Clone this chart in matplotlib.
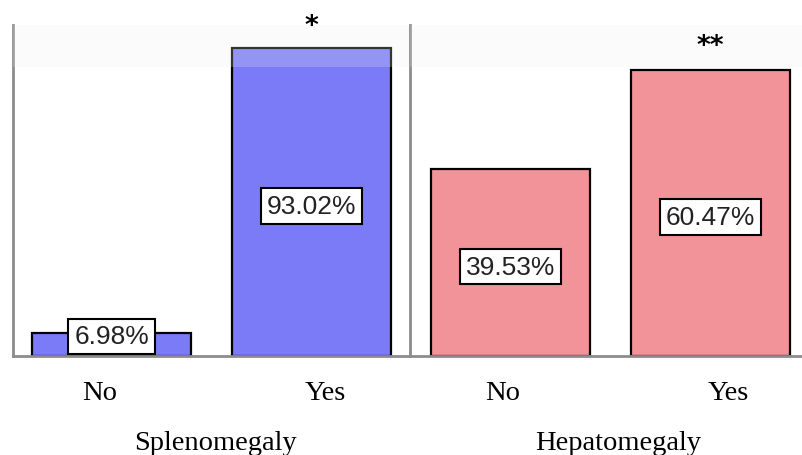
import matplotlib.pyplot as plt
from matplotlib.patches import Rectangle

categories = ['No', 'Yes']
spleen_pct = [6.98, 93.02]
hepato_pct = [39.53, 60.47]
panel_titles = ['Splenomegaly', 'Hepatomegaly']
stars = ['*', '**']

blue = '#7b7bf7'
pink = '#f19398'
spine_col = '#8c8c8c'

fig = plt.figure(figsize=(8.02, 4.56), dpi=100)
ax1 = fig.add_axes([13 / 802, 99 / 456, 397 / 802, 331 / 456])
ax2 = fig.add_axes([410 / 802, 99 / 456, 392 / 802, 331 / 456])

panels = [
    (ax1, spleen_pct, blue, 100, (-0.4925, 1.4925), [-0.06, 0.07], 0.51, 0.998),
    (ax2, hepato_pct, pink, 70, (-0.5025, 1.4575), [-0.04, 0.09], 0.53, 0.936),
]

x = range(len(categories))
for i, (ax, vals, col, ymax, xl, lab_off, title_x, star_y) in enumerate(panels):
    ax.bar(x, vals, width=0.795, color=col, edgecolor='black', linewidth=1.6, zorder=2)
    ax.set_ylim(0, ymax)
    ax.set_xlim(*xl)
    ax.set_xticks([])
    ax.set_yticks([])
    for s in ['top', 'right']:
        ax.spines[s].set_visible(False)
    for s in ['left', 'bottom']:
        ax.spines[s].set_color(spine_col)
        ax.spines[s].set_linewidth(2)

    # faint band at the top of the plotting area
    ax.add_patch(Rectangle((0, 0.873), 1, 0.127, transform=ax.transAxes,
                           facecolor='#eeeeee', alpha=0.22, edgecolor='none', zorder=3))

    for xi, v in zip(x, vals):
        y = v / 2 - ymax * 0.012 if v > 15 else v * 0.85
        ax.text(xi, y, f'{v:.2f}%', ha='center', va='center', fontsize=19,
                family='Liberation Sans', color='#222222', zorder=5,
                bbox=dict(boxstyle='square,pad=0.22', facecolor='white',
                          edgecolor='black', linewidth=1.5))

    for xi, lab, off in zip(x, categories, lab_off):
        ax.text(xi + off, -0.11, lab, transform=ax.get_xaxis_transform(),
                ha='center', va='center', fontsize=20.5, family='Liberation Serif',
                clip_on=False)
    ax.text(title_x, -0.262, panel_titles[i], transform=ax.transAxes,
            ha='center', va='center', fontsize=20.5, family='Liberation Serif',
            clip_on=False)

    ax.text(1, star_y, stars[i], transform=ax.get_xaxis_transform(),
            ha='center', va='center', fontsize=19, family='DejaVu Sans',
            fontweight='bold', clip_on=False, zorder=6)

fig.savefig('out.png', dpi=100)
